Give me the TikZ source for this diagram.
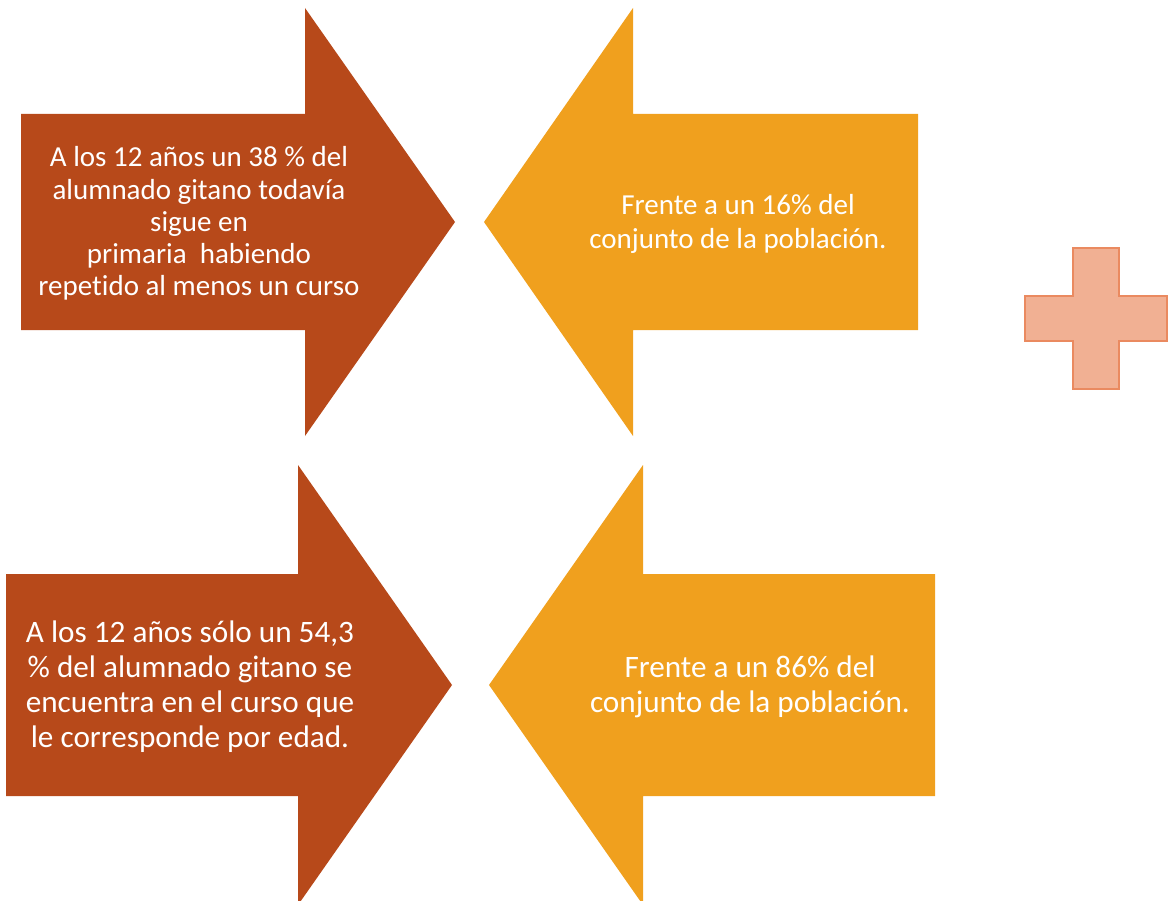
\documentclass[tikz,border=0pt]{standalone}
\usepackage{fontspec}
\setmainfont[RawFeature={-liga}]{Carlito}
\definecolor{rust}{HTML}{B7491A}
\definecolor{amber}{HTML}{F0A01E}
\definecolor{pinkfill}{HTML}{F1B093}
\definecolor{pinkline}{HTML}{EA8A60}
\tikzset{
  rustarrow/.style={fill=rust, draw=none},
  amberarrow/.style={fill=amber, draw=none},
  plusshape/.style={fill=pinkfill, draw=pinkline, line width=2.5pt, line join=miter},
  toptext/.style={text=white, align=center, inner sep=0pt,
    font=\fontsize{29}{32.2}\selectfont},
  bottext/.style={text=white, align=center, inner sep=0pt,
    font=\fontsize{31.2}{35}\selectfont},
}
\begin{document}
\begin{tikzpicture}[x=1pt, y=-1pt]
\useasboundingbox (0,0) rectangle (1169,901);
\clip (0,0) rectangle (1169,901);
% top-left arrow (right pointing)
\fill[rustarrow] (21,114) -- (305,114) -- (305,8) -- (455,222) -- (305,436) -- (305,330) -- (21,330) -- cycle;
% top-right arrow (left pointing)
\fill[amberarrow] (918,114) -- (633,114) -- (633,8) -- (484,222) -- (633,436) -- (633,330) -- (918,330) -- cycle;
% bottom-left arrow
\fill[rustarrow] (6,574) -- (298,574) -- (298,465) -- (452,685) -- (298,905) -- (298,796) -- (6,796) -- cycle;
% bottom-right arrow
\fill[amberarrow] (935,574) -- (643,574) -- (643,465) -- (489,685) -- (643,905) -- (643,796) -- (935,796) -- cycle;
% plus sign
\draw[plusshape] (1073,248) -- (1119,248) -- (1119,296) -- (1167,296) -- (1167,341) -- (1119,341) -- (1119,389) -- (1073,389) -- (1073,341) -- (1025,341) -- (1025,296) -- (1073,296) -- cycle;
% texts
\node[toptext] (t1) at (199,223.5) {A los 12 años un 38 \% del\\alumnado gitano todavía\\sigue en\\primaria\ \ habiendo\\repetido al menos un curso};
\node[toptext, font=\fontsize{29}{33.5}\selectfont] (t2) at (738,224) {Frente a un 16\% del\\conjunto de la población.};
\node[bottext] (t3) at (190,687) {A los 12 años sólo un 54,3\\\% del alumnado gitano se\\encuentra en el curso que\\le corresponde por edad.};
\node[bottext] (t4) at (750,687) {Frente a un 86\% del\\conjunto de la población.};
\end{tikzpicture}
\end{document}
